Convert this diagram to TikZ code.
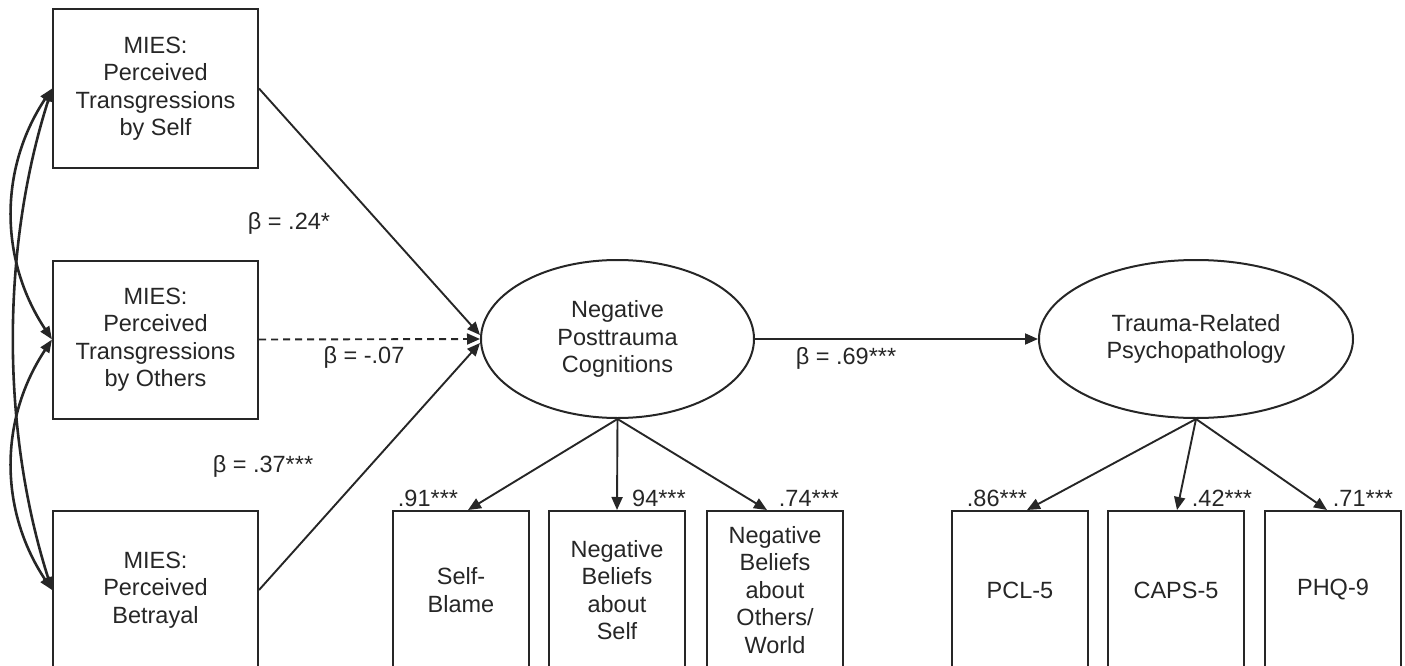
\documentclass[tikz,border=0pt]{standalone}
\usepackage{fontspec}
\setmainfont{Liberation Sans}
\usetikzlibrary{arrows.meta,shapes.geometric}
\begin{document}
\begin{tikzpicture}[x=1pt,y=-1pt,
  every node/.style={font=\fontsize{23.5}{27.5}\selectfont, text=black!85},
  obs/.style={draw=black!85, line width=2pt, rectangle, inner sep=0pt, align=center},
  bigbox/.style={obs, minimum width=205pt, minimum height=158pt},
  smallbox/.style={obs, minimum width=136pt, minimum height=158pt},
  lat/.style={draw=black!85, line width=2pt, ellipse, inner sep=0pt, align=center, minimum height=158pt},
  path/.style={draw=black!85, line width=1.9pt, -{Triangle[length=13pt,width=11pt]}},
  cov/.style={draw=black!85, line width=2.6pt, {Triangle[length=13pt,width=10pt]}-{Triangle[length=13pt,width=10pt]}},
  lbl/.style={inner sep=0pt}
]
\useasboundingbox (0,0) rectangle (1405,666);
\clip (0,0) rectangle (1405,666);

% left observed variables
\node[bigbox] (b1) at (155.5,88.5) {MIES:\\Perceived\\Transgressions\\by Self};
\node[bigbox] (b2) at (155.5,339.5) {MIES:\\Perceived\\Transgressions\\by Others};
\node[bigbox] (b3) at (155.5,590) {MIES:\\Perceived\\Betrayal};

% latent variables
\node[lat, minimum width=273pt] (e1) at (617.5,339) {Negative\\Posttrauma\\Cognitions};
\node[lat, minimum width=314pt] (e2) at (1196,339) {Trauma-Related\\Psychopathology};

% indicators
\node[smallbox] (i1) at (461,590) {Self-\\Blame};
\node[smallbox] (i2) at (617,590) {Negative\\Beliefs\\about\\Self};
\node[smallbox] (i3) at (775,590) {Negative\\Beliefs\\about\\Others/\\World};
\node[smallbox] (i4) at (1020,590) {PCL-5};
\node[smallbox] (i5) at (1176,590) {CAPS-5};
\node[smallbox] (i6) at (1333,590) {PHQ-9};

% covariances
\draw[cov] (b1.west) .. controls +(-53,80) and +(-53,-80) .. (b2.west);
\draw[cov] (b2.west) .. controls +(-53,80) and +(-53,-80) .. (b3.west);
\draw[cov] (b1.west) .. controls +(-51,160) and +(-51,-160) .. (b3.west);

% structural paths
\draw[path] (b1.east) -- ([yshift=4pt]e1.west);
\draw[path, dash pattern=on 7pt off 5pt] (b2.east) -- (e1.west);
\draw[path] (b3.east) -- ([yshift=-4pt]e1.west);
\draw[path] (e1.east) -- (e2.west);

% loadings
\draw[path] (e1.south) -- ([xshift=7pt]i1.north);
\draw[path] (e1.south) -- (i2.north);
\draw[path] (e1.south) -- ([xshift=-8pt]i3.north);
\draw[path] (e2.south) -- ([xshift=7pt]i4.north);
\draw[path] (e2.south) -- ([xshift=1pt]i5.north);
\draw[path] (e2.south) -- ([xshift=-6pt]i6.north);

% labels
\node[lbl] (p1) at (289,223) {β = .24*};
\node[lbl] (p2) at (364,357) {β = -.07};
\node[lbl] (p3) at (263,466) {β = .37***};
\node[lbl] (p4) at (846,358) {β = .69***};
\node[lbl] (a1) at (428,498) {.91***};
\node[lbl] (a2) at (659,498) {94***};
\node[lbl] (a3) at (809,498) {.74***};
\node[lbl] (a4) at (997,498) {.86***};
\node[lbl] (a5) at (1222,498) {.42***};
\node[lbl] (a6) at (1363,498) {.71***};
\end{tikzpicture}
\end{document}
